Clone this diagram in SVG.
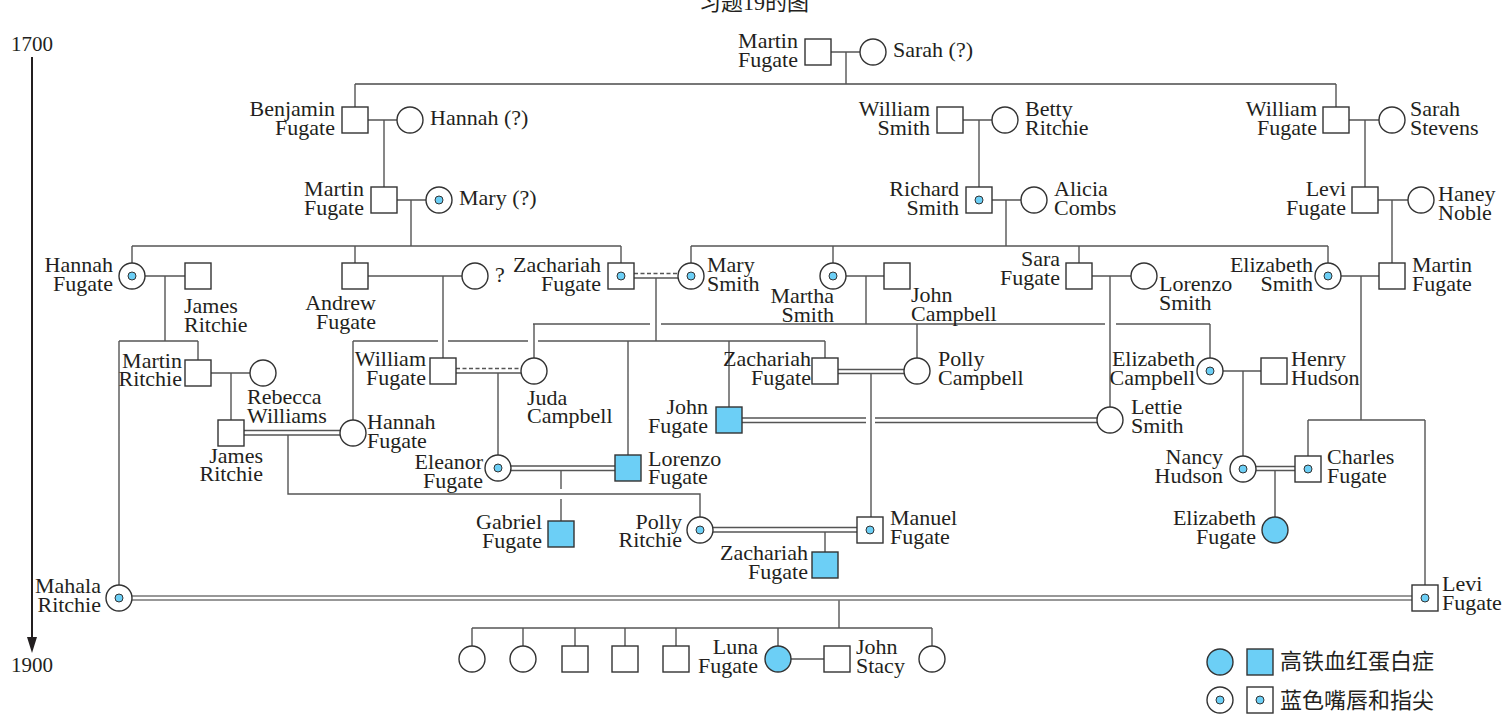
<svg xmlns="http://www.w3.org/2000/svg" width="1503" height="717" viewBox="0 0 1503 717">
<style>
.s,.c{fill:#fff;stroke:#333;stroke-width:1.4}
.a{fill:#6ccff6}
.d{fill:#6ccff6;stroke:#333;stroke-width:1}
.t{font-family:"Liberation Serif","Times New Roman",serif;font-size:22px;fill:#231f20}
.e{text-anchor:end}
.m{text-anchor:middle}
.ln{fill:none;stroke:#555;stroke-width:1.4}
.lt{fill:none;stroke:#777;stroke-width:1.8}
.ds{stroke-dasharray:4 2.5}
.cjk{font-family:"Liberation Serif","Noto Sans CJK SC",serif;font-size:22px;fill:#231f20}
</style>
<rect width="1503" height="717" fill="#fff"/>
<text class="cjk m" x="754" y="10">习题19的图</text>

<g id="timeline">
<line x1="32" y1="57" x2="32" y2="640" stroke="#231f20" stroke-width="2"/>
<polygon points="27,637 37,637 32,653" fill="#231f20"/>
<text class="t m" x="32" y="51" style="font-size:21px">1700</text>
<text class="t m" x="32" y="672" style="font-size:21px">1900</text>
</g>

<g id="connectors">
<path class="lt" d="M355 84H1336"/>
<path class="ln" d="M831 52H860M846 52V84M355 84V107M1336 84V107
M368 120H397M384 120V187M963 120H992M979 120V187M1349 120H1379M1365 120V187
M397 200H426M411 200V246M132 246H621M132 246V263M355 246V263M621 246V263
M992 200H1021M1006 200V246M691 246H1328M691 246V263M833 246V263M1079 246V263M1328 246V263
M1378 200H1408M1392 200V263
M145 276H185M165 276V341M119 341H198M198 341V360M119 341V585
M368 276H462M443 276V358
M634 278H678M656 278V341
M353 341H438M448 341H528M538 341H825M353 341V420M628 341V455M729 341V407M825 341V358
M846 276H884M866 276V324
M533 324H650M661 324H1105M1116 324H1210M534 324V358M917 324V358M1210 324V358
M1092 276H1131M1110 276V407
M1341 276H1379M1361 276V420M1308 420H1425M1308 420V456M1425 420V585
M211 373H250M231 373V420
M244 430.5H340M244 435H340M288 435V494H700V517
M456 373H521M498 373V455
M511 466H615M511 470.5H615M561 470.5V489M561 499V521
M838 369.5H904M838 373.5H904M871 373.5V517
M742 418H866M875 418H1097M742 422.5H866M875 422.5H1097
M1223 371H1261M1243 371V456
M1256 466.5H1295M1256 470.5H1295M1275 470.5V517
M713 527.5H857M713 532H857M825 532V552
M839 600V628M472 628H932
M472 628V646M523 628V646M575 628V646M625 628V646M676 628V646M778 628V646M932 628V646
M791 659H824"/>
<path class="ln ds" d="M634 273.5H678M456 368.5H521"/>
<path class="lt" d="M132 596H1412M132 600H1412" style="stroke-width:1.5"/>
</g>

<g id="martin-fugate-1"><rect class="s" x="805" y="39" width="26" height="26"/><text class="t e" x="798" y="48">Martin</text><text class="t e" x="798" y="66.5">Fugate</text></g>
<g id="sarah"><circle class="c" cx="873" cy="52" r="13"/><text class="t" x="893" y="57">Sarah (?)</text></g>

<g id="benjamin-fugate"><rect class="s" x="342" y="107" width="26" height="26"/><text class="t e" x="335" y="116">Benjamin</text><text class="t e" x="335" y="134.5">Fugate</text></g>
<g id="hannah-q"><circle class="c" cx="410" cy="120" r="13"/><text class="t" x="430" y="125">Hannah (?)</text></g>
<g id="william-smith"><rect class="s" x="937" y="107" width="26" height="26"/><text class="t e" x="930" y="116">William</text><text class="t e" x="930" y="134.5">Smith</text></g>
<g id="betty-ritchie"><circle class="c" cx="1005" cy="120" r="13"/><text class="t" x="1025" y="116">Betty</text><text class="t" x="1025" y="134.5">Ritchie</text></g>
<g id="william-fugate-1"><rect class="s" x="1323" y="107" width="26" height="26"/><text class="t e" x="1317" y="116">William</text><text class="t e" x="1317" y="134.5">Fugate</text></g>
<g id="sarah-stevens"><circle class="c" cx="1392" cy="120" r="13"/><text class="t" x="1410" y="116">Sarah</text><text class="t" x="1410" y="134.5">Stevens</text></g>

<g id="martin-fugate-2"><rect class="s" x="371" y="187" width="26" height="26"/><text class="t e" x="364" y="196">Martin</text><text class="t e" x="364" y="214.5">Fugate</text></g>
<g id="mary-q"><circle class="c" cx="439" cy="200" r="13"/><circle class="d" cx="439" cy="200" r="4"/><text class="t" x="459" y="205">Mary (?)</text></g>
<g id="richard-smith"><rect class="s" x="966" y="187" width="26" height="26"/><circle class="d" cx="979" cy="200" r="4"/><text class="t e" x="959" y="196">Richard</text><text class="t e" x="959" y="214.5">Smith</text></g>
<g id="alicia-combs"><circle class="c" cx="1034" cy="200" r="13"/><text class="t" x="1054" y="196">Alicia</text><text class="t" x="1054" y="214.5">Combs</text></g>
<g id="levi-fugate-1"><rect class="s" x="1352" y="187" width="26" height="26"/><text class="t e" x="1346" y="196">Levi</text><text class="t e" x="1346" y="214.5">Fugate</text></g>
<g id="haney-noble"><circle class="c" cx="1421" cy="200" r="13"/><text class="t" x="1438" y="201">Haney</text><text class="t" x="1438" y="219.5">Noble</text></g>

<g id="hannah-fugate-1"><circle class="c" cx="132" cy="276" r="13"/><circle class="d" cx="132" cy="276" r="4"/><text class="t e" x="113" y="272">Hannah</text><text class="t e" x="113" y="290.5">Fugate</text></g>
<g id="james-ritchie-1"><rect class="s" x="185" y="263" width="26" height="26"/><text class="t" x="184" y="313">James</text><text class="t" x="184" y="331.5">Ritchie</text></g>
<g id="andrew-fugate"><rect class="s" x="342" y="263" width="26" height="26"/><text class="t e" x="376" y="310">Andrew</text><text class="t e" x="376" y="328.5">Fugate</text></g>
<g id="unknown"><circle class="c" cx="475" cy="276" r="13"/><text class="t" x="495" y="282">?</text></g>
<g id="zachariah-fugate-1"><rect class="s" x="608" y="263" width="26" height="26"/><circle class="d" cx="621" cy="276" r="4"/><text class="t e" x="601" y="272">Zachariah</text><text class="t e" x="601" y="290.5">Fugate</text></g>
<g id="mary-smith"><circle class="c" cx="691" cy="276" r="13"/><circle class="d" cx="691" cy="276" r="4"/><text class="t" x="707" y="272">Mary</text><text class="t" x="707" y="290.5">Smith</text></g>
<g id="martha-smith"><circle class="c" cx="833" cy="276" r="13"/><circle class="d" cx="833" cy="276" r="4"/><text class="t e" x="834" y="303">Martha</text><text class="t e" x="834" y="321.5">Smith</text></g>
<g id="john-campbell"><rect class="s" x="884" y="263" width="26" height="26"/><text class="t" x="911" y="302">John</text><text class="t" x="911" y="320.5">Campbell</text></g>
<g id="sara-fugate"><rect class="s" x="1066" y="263" width="26" height="26"/><text class="t e" x="1060" y="266">Sara</text><text class="t e" x="1060" y="284.5">Fugate</text></g>
<g id="lorenzo-smith"><circle class="c" cx="1144" cy="276" r="13"/><text class="t" x="1159" y="291">Lorenzo</text><text class="t" x="1159" y="310">Smith</text></g>
<g id="elizabeth-smith"><circle class="c" cx="1328" cy="276" r="13"/><circle class="d" cx="1328" cy="276" r="4"/><text class="t e" x="1313" y="271.5">Elizabeth</text><text class="t e" x="1313" y="290.5">Smith</text></g>
<g id="martin-fugate-3"><rect class="s" x="1379" y="263" width="26" height="26"/><text class="t" x="1412" y="272">Martin</text><text class="t" x="1412" y="290.5">Fugate</text></g>

<g id="martin-ritchie"><rect class="s" x="185" y="360" width="26" height="26"/><text class="t e" x="182" y="368">Martin</text><text class="t e" x="182" y="386">Ritchie</text></g>
<g id="rebecca-williams"><circle class="c" cx="263" cy="373" r="13"/><text class="t" x="247" y="404">Rebecca</text><text class="t" x="247" y="422.5">Williams</text></g>
<g id="william-fugate-2"><rect class="s" x="430" y="358" width="26" height="26"/><text class="t e" x="426" y="366">William</text><text class="t e" x="426" y="384.5">Fugate</text></g>
<g id="juda-campbell"><circle class="c" cx="534" cy="371" r="13"/><text class="t" x="527" y="404.5">Juda</text><text class="t" x="527" y="423">Campbell</text></g>
<g id="zachariah-fugate-2"><rect class="s" x="812" y="358" width="26" height="26"/><text class="t e" x="811" y="366">Zachariah</text><text class="t e" x="811" y="384.5">Fugate</text></g>
<g id="polly-campbell"><circle class="c" cx="917" cy="371" r="13"/><text class="t" x="938" y="366">Polly</text><text class="t" x="938" y="384.5">Campbell</text></g>
<g id="elizabeth-campbell"><circle class="c" cx="1210" cy="371" r="13"/><circle class="d" cx="1210" cy="371" r="4"/><text class="t e" x="1195" y="366">Elizabeth</text><text class="t e" x="1195" y="384.5">Campbell</text></g>
<g id="henry-hudson"><rect class="s" x="1261" y="358" width="26" height="26"/><text class="t" x="1291" y="366">Henry</text><text class="t" x="1291" y="384.5">Hudson</text></g>

<g id="james-ritchie-2"><rect class="s" x="218" y="420" width="26" height="26"/><text class="t e" x="263" y="462.5">James</text><text class="t e" x="263" y="481">Ritchie</text></g>
<g id="hannah-fugate-2"><circle class="c" cx="353" cy="433" r="13"/><text class="t" x="367" y="429">Hannah</text><text class="t" x="367" y="447.5">Fugate</text></g>
<g id="john-fugate"><rect class="s a" x="716" y="407" width="26" height="26"/><text class="t e" x="708" y="414">John</text><text class="t e" x="708" y="432.5">Fugate</text></g>
<g id="lettie-smith"><circle class="c" cx="1110" cy="420" r="13"/><text class="t" x="1131" y="414">Lettie</text><text class="t" x="1131" y="432.5">Smith</text></g>
<g id="eleanor-fugate"><circle class="c" cx="498" cy="468" r="13"/><circle class="d" cx="498" cy="468" r="4"/><text class="t e" x="483" y="469">Eleanor</text><text class="t e" x="483" y="487.5">Fugate</text></g>
<g id="lorenzo-fugate"><rect class="s a" x="615" y="455" width="26" height="26"/><text class="t" x="648" y="465.5">Lorenzo</text><text class="t" x="648" y="484">Fugate</text></g>
<g id="nancy-hudson"><circle class="c" cx="1243" cy="469" r="13"/><circle class="d" cx="1243" cy="469" r="4"/><text class="t e" x="1223" y="464">Nancy</text><text class="t e" x="1223" y="482.5">Hudson</text></g>
<g id="charles-fugate"><rect class="s" x="1295" y="456" width="26" height="26"/><circle class="d" cx="1308" cy="469" r="4"/><text class="t" x="1327" y="464">Charles</text><text class="t" x="1327" y="482.5">Fugate</text></g>

<g id="gabriel-fugate"><rect class="s a" x="548" y="521" width="26" height="26"/><text class="t e" x="542" y="529">Gabriel</text><text class="t e" x="542" y="547.5">Fugate</text></g>
<g id="polly-ritchie"><circle class="c" cx="700" cy="530" r="13"/><circle class="d" cx="700" cy="530" r="4"/><text class="t e" x="682" y="528.5">Polly</text><text class="t e" x="682" y="547">Ritchie</text></g>
<g id="manuel-fugate"><rect class="s" x="857" y="517" width="26" height="26"/><circle class="d" cx="870" cy="530" r="4"/><text class="t" x="890" y="525">Manuel</text><text class="t" x="890" y="543.5">Fugate</text></g>
<g id="elizabeth-fugate"><circle class="c a" cx="1275" cy="530" r="13"/><text class="t e" x="1256" y="525">Elizabeth</text><text class="t e" x="1256" y="543.5">Fugate</text></g>
<g id="zachariah-fugate-3"><rect class="s a" x="812" y="552" width="26" height="26"/><text class="t e" x="808" y="560">Zachariah</text><text class="t e" x="808" y="578.5">Fugate</text></g>

<g id="mahala-ritchie"><circle class="c" cx="119" cy="598" r="13"/><circle class="d" cx="119" cy="598" r="4"/><text class="t e" x="101" y="592.5">Mahala</text><text class="t e" x="101" y="611.5">Ritchie</text></g>
<g id="levi-fugate-2"><rect class="s" x="1412" y="585" width="26" height="26"/><circle class="d" cx="1425" cy="598" r="4"/><text class="t" x="1442" y="591">Levi</text><text class="t" x="1442" y="610">Fugate</text></g>

<g id="child-1"><circle class="c" cx="472" cy="659" r="13"/></g>
<g id="child-2"><circle class="c" cx="523" cy="659" r="13"/></g>
<g id="child-3"><rect class="s" x="562" y="646" width="26" height="26"/></g>
<g id="child-4"><rect class="s" x="612" y="646" width="26" height="26"/></g>
<g id="child-5"><rect class="s" x="663" y="646" width="26" height="26"/></g>
<g id="luna-fugate"><circle class="c a" cx="778" cy="659" r="13"/><text class="t e" x="758" y="654">Luna</text><text class="t e" x="758" y="672.5">Fugate</text></g>
<g id="john-stacy"><rect class="s" x="824" y="646" width="26" height="26"/><text class="t" x="856" y="654">John</text><text class="t" x="856" y="672.5">Stacy</text></g>
<g id="child-7"><circle class="c" cx="932" cy="659" r="13"/></g>

<g id="legend">
<circle class="c a" cx="1220" cy="662" r="13"/>
<rect class="s a" x="1247" y="649" width="26" height="26"/>
<text class="cjk" x="1280" y="669">高铁血红蛋白症</text>
<circle class="c" cx="1220" cy="700" r="13"/><circle class="d" cx="1220" cy="700" r="4"/>
<rect class="s" x="1247" y="687" width="26" height="26"/><circle class="d" cx="1260" cy="700" r="4"/>
<text class="cjk" x="1280" y="708">蓝色嘴唇和指尖</text>
</g>
</svg>
